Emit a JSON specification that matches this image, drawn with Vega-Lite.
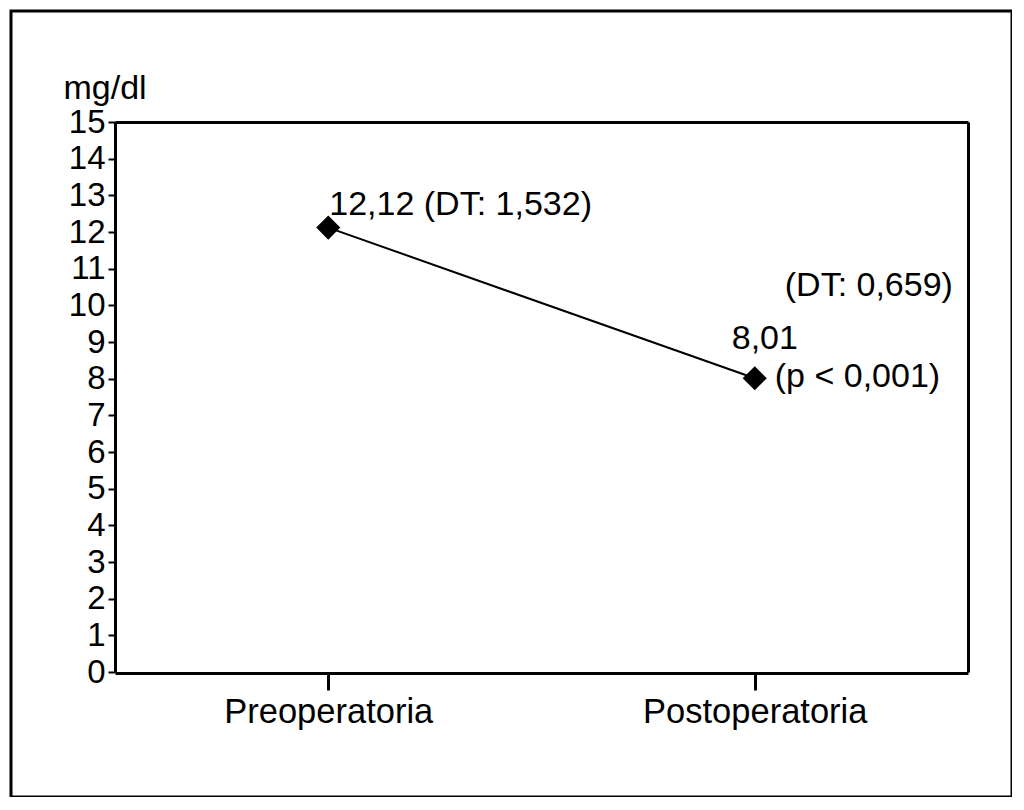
{
  "$schema": "https://vega.github.io/schema/vega-lite/v6.json",
  "autosize": {"type": "none"},
  "padding": {"left": 11, "top": 11, "right": 0, "bottom": 0},
  "width": 1001,
  "height": 786,
  "background": "white",
  "config": {
    "view": {"stroke": "black", "strokeWidth": 3},
    "font": "Liberation Sans",
    "axis": {"grid": false, "domainColor": "black", "tickColor": "black", "labelColor": "black", "titleColor": "black", "labelFont": "Liberation Sans", "titleFont": "Liberation Sans"}
  },
  "data": {"values": [
    {"fase": "Preoperatoria", "valor": 12.12},
    {"fase": "Postoperatoria", "valor": 8.01}
  ]},
  "encoding": {
    "x": {"field": "fase", "type": "nominal", "sort": ["Preoperatoria", "Postoperatoria"],
          "scale": {"type": "point", "padding": 0.5, "range": [104, 957]}},
    "y": {"field": "valor", "type": "quantitative",
          "scale": {"domain": [0, 15], "nice": false, "range": [661, 111]}}
  },
  "layer": [
    {
      "mark": {"type": "line", "color": "black", "strokeWidth": 2},
      "encoding": {
        "x": {"field": "fase", "type": "nominal", "sort": ["Preoperatoria", "Postoperatoria"],
              "axis": {"orient": "bottom", "offset": -124, "title": null, "labelAngle": 0,
                       "domainWidth": 3, "tickSize": 17, "tickWidth": 3, "labelFontSize": 34.5,
                       "labelPadding": 5, "labelLimit": 0}},
        "y": {"field": "valor", "type": "quantitative",
              "axis": {"orient": "left", "offset": -104, "values": [0,1,2,3,4,5,6,7,8,9,10,11,12,13,14,15],
                       "domainWidth": 3, "tickSize": 7, "tickWidth": 2, "labelFontSize": 33,
                       "labelPadding": 3, "title": "mg/dl", "titleAngle": 0, "titleAlign": "left",
                       "titleBaseline": "alphabetic", "titleFontSize": 34, "titleFontWeight": "normal",
                       "titleX": -52, "titleY": 87}}
      }
    },
    {
      "mark": {"type": "point", "shape": "diamond", "filled": true, "color": "black", "opacity": 1, "size": 580},
      "encoding": {
        "x": {"field": "fase", "type": "nominal", "sort": ["Preoperatoria", "Postoperatoria"],
              "axis": {"orient": "top", "offset": -111, "title": null, "labels": false, "ticks": false, "domainWidth": 3}},
        "y": {"field": "valor", "type": "quantitative",
              "axis": {"orient": "right", "offset": -44, "title": null, "labels": false, "ticks": false, "domainWidth": 3}}
      }
    },
    {
      "data": {"values": [{"fase": "Preoperatoria", "valor": 12.12, "texto": "12,12 (DT: 1,532)"}]},
      "mark": {"type": "text", "align": "left", "baseline": "alphabetic", "fontSize": 34, "dx": 1, "dy": -13, "color": "black"},
      "encoding": {"text": {"field": "texto"},
        "x": {"field": "fase", "type": "nominal", "sort": ["Preoperatoria", "Postoperatoria"], "axis": null},
        "y": {"field": "valor", "type": "quantitative", "axis": null}}
    },
    {
      "data": {"values": [{"fase": "Postoperatoria", "valor": 8.01, "texto": "(DT: 0,659)"}]},
      "mark": {"type": "text", "align": "left", "baseline": "alphabetic", "fontSize": 34, "dx": 30, "dy": -82, "color": "black"},
      "encoding": {"text": {"field": "texto"},
        "x": {"field": "fase", "type": "nominal", "sort": ["Preoperatoria", "Postoperatoria"], "axis": null},
        "y": {"field": "valor", "type": "quantitative", "axis": null}}
    },
    {
      "data": {"values": [{"fase": "Postoperatoria", "valor": 8.01, "texto": "8,01"}]},
      "mark": {"type": "text", "align": "left", "baseline": "alphabetic", "fontSize": 34, "dx": -23, "dy": -29, "color": "black"},
      "encoding": {"text": {"field": "texto"},
        "x": {"field": "fase", "type": "nominal", "sort": ["Preoperatoria", "Postoperatoria"], "axis": null},
        "y": {"field": "valor", "type": "quantitative", "axis": null}}
    },
    {
      "data": {"values": [{"fase": "Postoperatoria", "valor": 8.01, "texto": "(p < 0,001)"}]},
      "mark": {"type": "text", "align": "left", "baseline": "alphabetic", "fontSize": 34, "dx": 20, "dy": 9, "color": "black"},
      "encoding": {"text": {"field": "texto"},
        "x": {"field": "fase", "type": "nominal", "sort": ["Preoperatoria", "Postoperatoria"], "axis": null},
        "y": {"field": "valor", "type": "quantitative", "axis": null}}
    }
  ],
  "resolve": {"axis": {"x": "independent", "y": "independent"}}
}
